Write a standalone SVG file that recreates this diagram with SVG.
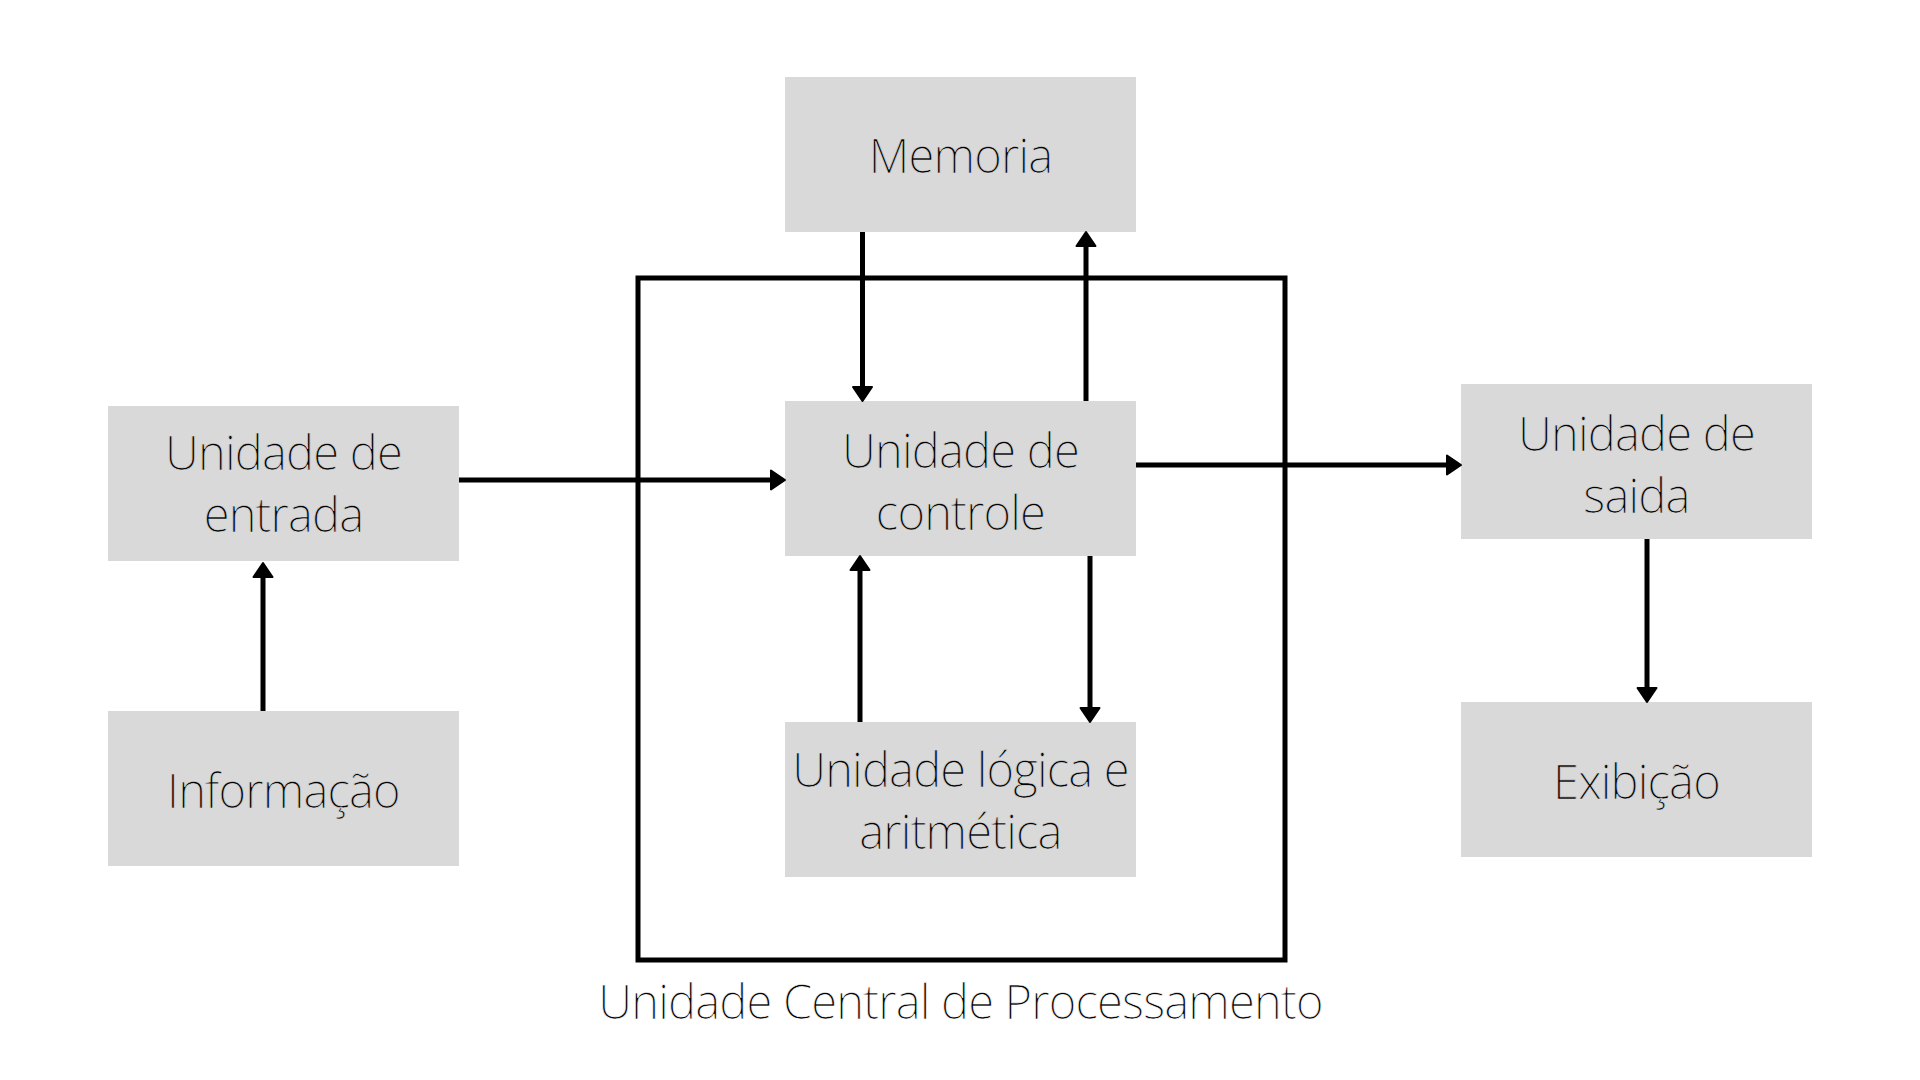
<svg xmlns="http://www.w3.org/2000/svg" width="1920" height="1080" viewBox="0 0 1920 1080">
  <style>
    .box { fill: #d9d9d9; }
    .lbl { font-family: "Open Sans", "Liberation Sans", sans-serif; font-weight: 300; font-size: 47px; letter-spacing: -0.8px; fill: #000; text-anchor: middle; stroke: #d9d9d9; stroke-width: 0.7px; }
    .lbl.out { stroke: #fff; }
    .conn { stroke: #000; stroke-width: 5; fill: none; marker-end: url(#arrow); }
    .cpu { fill: none; stroke: #000; stroke-width: 5; }
  </style>
  <defs>
    <marker id="arrow" markerUnits="userSpaceOnUse" viewBox="-1 -12 17 24" refX="0" refY="0" markerWidth="17" markerHeight="24" orient="auto">
      <path d="M0,-9.5 L14,0 L0,9.5 Z" fill="#000" stroke="#000" stroke-width="2" stroke-linejoin="round"/>
    </marker>
  </defs>
  <rect width="1920" height="1080" fill="#fff"/>

  <g id="cpu">
    <rect class="cpu" x="638" y="278" width="647" height="682"/>
    <text class="lbl out" x="960.5" y="1019">Unidade Central de Processamento</text>
  </g>

  <g id="memoria">
    <rect class="box" x="785" y="77" width="351" height="155"/>
    <text class="lbl" x="960.5" y="173">Memoria</text>
  </g>
  <g id="controle">
    <rect class="box" x="785" y="401" width="351" height="155"/>
    <text class="lbl" x="960.5" y="468">Unidade de</text>
    <text class="lbl" x="960.5" y="530">controle</text>
  </g>
  <g id="ula">
    <rect class="box" x="785" y="722" width="351" height="155"/>
    <text class="lbl" x="960.5" y="787">Unidade lógica e</text>
    <text class="lbl" x="960.5" y="849">aritmética</text>
  </g>
  <g id="entrada">
    <rect class="box" x="108" y="406" width="351" height="155"/>
    <text class="lbl" x="283.5" y="470">Unidade de</text>
    <text class="lbl" x="283.5" y="532">entrada</text>
  </g>
  <g id="informacao">
    <rect class="box" x="108" y="711" width="351" height="155"/>
    <text class="lbl" x="283.5" y="808">Informação</text>
  </g>
  <g id="saida">
    <rect class="box" x="1461" y="384" width="351" height="155"/>
    <text class="lbl" x="1636.5" y="451">Unidade de</text>
    <text class="lbl" x="1636.5" y="513">saida</text>
  </g>
  <g id="exibicao">
    <rect class="box" x="1461" y="702" width="351" height="155"/>
    <text class="lbl" x="1636.5" y="799">Exibição</text>
  </g>

  <g id="connectors">
    <line class="conn" x1="263" y1="711" x2="263" y2="577"/>
    <line class="conn" x1="459" y1="480" x2="771" y2="480"/>
    <line class="conn" x1="862.5" y1="232" x2="862.5" y2="387"/>
    <line class="conn" x1="1086" y1="401" x2="1086" y2="246"/>
    <line class="conn" x1="860" y1="722" x2="860" y2="570"/>
    <line class="conn" x1="1090" y1="556" x2="1090" y2="708"/>
    <line class="conn" x1="1136" y1="465" x2="1447" y2="465"/>
    <line class="conn" x1="1647" y1="539" x2="1647" y2="688"/>
  </g>
</svg>
